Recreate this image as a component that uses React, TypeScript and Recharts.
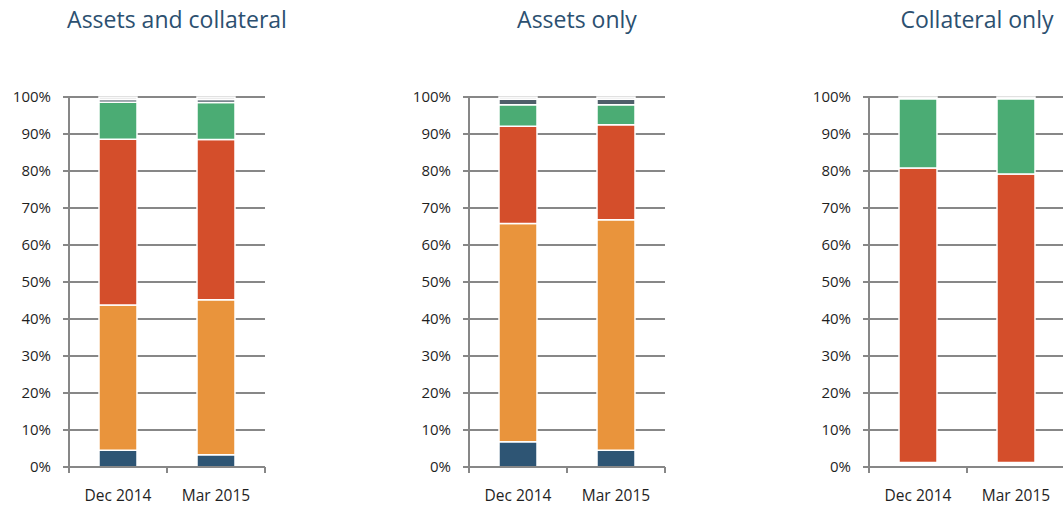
import { Bar, BarChart, CartesianGrid, XAxis, YAxis } from "recharts";

const CATEGORIES = ["Dec 2014", "Mar 2015"];
const Y_TICKS = [0, 10, 20, 30, 40, 50, 60, 70, 80, 90, 100];

// panel 1: assets and collateral
const P1_GAP = [0, 0];
const P1_BLUE = [4.5, 3.3];
const P1_ORANGE = [39.3, 41.9];
const P1_RED = [44.8, 43.3];
const P1_GREEN = [10.0, 10.0];
const P1_GREY = [0.7, 0.8];
const P1_OTHER = [0.7, 0.7];

// panel 2: assets only
const P2_GAP = [0, 0];
const P2_BLUE = [6.8, 4.5];
const P2_ORANGE = [59.0, 62.3];
const P2_RED = [26.3, 25.7];
const P2_GREEN = [5.8, 5.4];
const P2_GREY = [1.5, 1.5];
const P2_OTHER = [0.6, 0.6];

// panel 3: collateral only
const P3_GAP = [1.2, 1.2];
const P3_BLUE = [0, 0];
const P3_ORANGE = [0, 0];
const P3_RED = [79.6, 78.0];
const P3_GREEN = [18.7, 20.3];
const P3_GREY = [0, 0];
const P3_OTHER = [0.5, 0.5];

const SERIES = [
  { key: "gap", color: "#ffffff" },
  { key: "blue", color: "#2e5574" },
  { key: "orange", color: "#e9943c" },
  { key: "red", color: "#d44e2b" },
  { key: "green", color: "#4bac74" },
  { key: "grey", color: "#4f5f6a" },
  { key: "other", color: "#e4e4e4" },
];

function table(cols: number[][]) {
  return CATEGORIES.map((name, i) => {
    const row: Record<string, number | string> = { name };
    SERIES.forEach((s, j) => (row[s.key] = cols[j][i]));
    return row;
  });
}

const PANELS = [
  { title: "Assets and collateral", data: table([P1_GAP, P1_BLUE, P1_ORANGE, P1_RED, P1_GREEN, P1_GREY, P1_OTHER]) },
  { title: "Assets only", data: table([P2_GAP, P2_BLUE, P2_ORANGE, P2_RED, P2_GREEN, P2_GREY, P2_OTHER]) },
  { title: "Collateral only", data: table([P3_GAP, P3_BLUE, P3_ORANGE, P3_RED, P3_GREEN, P3_GREY, P3_OTHER]) },
];

const W = 400;
const H = 506;
const MARGIN = { top: 97, right: 135, left: 0, bottom: 9 };
const Y_WIDTH = 69;
const X_HEIGHT = 30;
const AXIS_Y = H - MARGIN.bottom - X_HEIGHT;
const BAND = (W - MARGIN.left - MARGIN.right - Y_WIDTH) / CATEGORIES.length;
const AXIS_GREY = "#878787";
const FONT = "'Open Sans', sans-serif";

function XTick(props: any) {
  const { x, payload } = props;
  return (
    <g>
      <line x1={x - BAND / 2} x2={x - BAND / 2} y1={AXIS_Y} y2={AXIS_Y + 6} stroke={AXIS_GREY} strokeWidth={2} />
      <line x1={x + BAND / 2} x2={x + BAND / 2} y1={AXIS_Y} y2={AXIS_Y + 6} stroke={AXIS_GREY} strokeWidth={2} />
      <text x={x} y={AXIS_Y + 34} textAnchor="middle" fontSize={15.5} fill="#1f1f1f" fontFamily={FONT}>
        {payload.value}
      </text>
    </g>
  );
}

function Panel({ title, data }: { title: string; data: any[] }) {
  return (
    <div style={{ position: "relative", width: W, height: H, flex: "0 0 auto" }}>
      <div
        style={{
          position: "absolute",
          top: 3,
          left: 0,
          width: 354,
          textAlign: "center",
          fontFamily: FONT,
          fontSize: 23,
          color: "#2c5070",
          whiteSpace: "nowrap",
        }}
      >
        {title}
      </div>
      <BarChart width={W} height={H} data={data} margin={MARGIN} barSize={38}>
        <CartesianGrid vertical={false} stroke={AXIS_GREY} strokeWidth={2} />
        <XAxis
          dataKey="name"
          height={X_HEIGHT}
          axisLine={{ stroke: AXIS_GREY, strokeWidth: 2 }}
          tickLine={false}
          tick={<XTick />}
          interval={0}
        />
        <YAxis
          width={Y_WIDTH}
          domain={[0, 100]}
          ticks={Y_TICKS}
          tickFormatter={(v) => `${v}%`}
          axisLine={{ stroke: AXIS_GREY, strokeWidth: 2 }}
          tickLine={{ stroke: AXIS_GREY, strokeWidth: 2 }}
          tickSize={6}
          tickMargin={12}
          tick={{ fontSize: 15, fill: "#1f1f1f", fontFamily: FONT }}
          interval={0}
        />
        {SERIES.map((s) => (
          <Bar
            key={s.key}
            dataKey={s.key}
            stackId="a"
            fill={s.color}
            stroke="#ffffff"
            strokeWidth={1.5}
            isAnimationActive={false}
          />
        ))}
      </BarChart>
    </div>
  );
}

export default function App() {
  return (
    <div
      style={{
        position: "absolute",
        top: 0,
        left: 0,
        width: 1063,
        height: H,
        overflow: "hidden",
        display: "flex",
        background: "#fff",
      }}
    >
      {PANELS.map((p) => (
        <Panel key={p.title} title={p.title} data={p.data} />
      ))}
    </div>
  );
}
